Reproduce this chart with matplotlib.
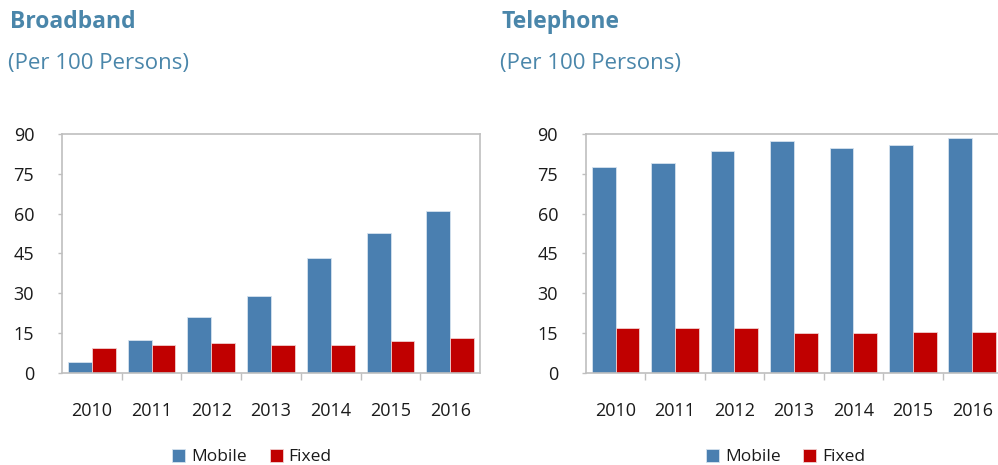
import numpy as np
import matplotlib.pyplot as plt

plt.rcParams['font.family'] = ['Open Sans', 'DejaVu Sans']

years = ['2010', '2011', '2012', '2013', '2014', '2015', '2016']
broadband_mobile = [4.0, 12.5, 21.1, 29.1, 43.2, 52.8, 61.0]
broadband_fixed = [9.4, 10.7, 11.3, 10.7, 10.7, 12.0, 13.2]
phone_mobile = [77.4, 79.2, 83.6, 87.2, 84.7, 86.0, 88.5]
phone_fixed = [16.8, 16.8, 16.8, 15.1, 15.1, 15.6, 15.6]

blue = '#4a7fb0'
red = '#c00000'
title_col = '#4a86aa'
grey = '#bfbfbf'
text_col = '#1a1a1a'

fig = plt.figure(figsize=(9.98, 4.65), dpi=100)


def draw_panel(rect, title, title_x, mobile, fixed, legend_x):
    ax = fig.add_axes(rect)
    x = np.arange(len(years))
    w = 0.4
    ax.bar(x - w / 2, mobile, width=w, color=blue, edgecolor='#d6e2ee',
           linewidth=0.6, label='Mobile')
    ax.bar(x + w / 2, fixed, width=w, color=red, edgecolor='#f0d0d0',
           linewidth=0.6, label='Fixed')
    ax.set_xlim(-0.5, len(years) - 0.5)
    ax.set_ylim(0, 90)
    ax.set_yticks(np.arange(0, 91, 15))
    ax.tick_params(axis='y', length=3, width=1, color=grey, pad=17,
                   labelsize=13, labelcolor=text_col)
    # categories labelled in the middle, tick marks between them
    ax.set_xticks(x)
    ax.set_xticklabels(years)
    ax.tick_params(axis='x', length=0, pad=21, labelsize=13, labelcolor=text_col)
    ax.set_xticks(np.arange(0.5, len(years) - 1, 1), minor=True)
    ax.tick_params(axis='x', which='minor', length=5, width=1, color=grey,
                   direction='out')
    for s in ax.spines.values():
        s.set_color(grey)
        s.set_linewidth(1.2)
    # titles
    fig.text(title_x + 0.002, 0.953, title, fontsize=16.5, fontweight='bold',
             color=title_col, va='center', ha='left')
    fig.text(title_x, 0.864, '(Per 100 Persons)', fontsize=16,
             color=title_col, va='center', ha='left')
    ax.legend(loc='center', bbox_to_anchor=(legend_x, 0.017),
              bbox_transform=fig.transFigure, ncol=2, frameon=False,
              fontsize=12.5, handlelength=0.75, handleheight=0.75,
              handletextpad=0.35, columnspacing=1.3, labelcolor=text_col)
    return ax


draw_panel([0.0621, 0.198, 0.419, 0.514], 'Broadband', 0.008,
           broadband_mobile, broadband_fixed, 0.2525)
draw_panel([0.587, 0.198, 0.417, 0.514], 'Telephone', 0.501,
           phone_mobile, phone_fixed, 0.787)

fig.savefig('out.png', dpi=100)
